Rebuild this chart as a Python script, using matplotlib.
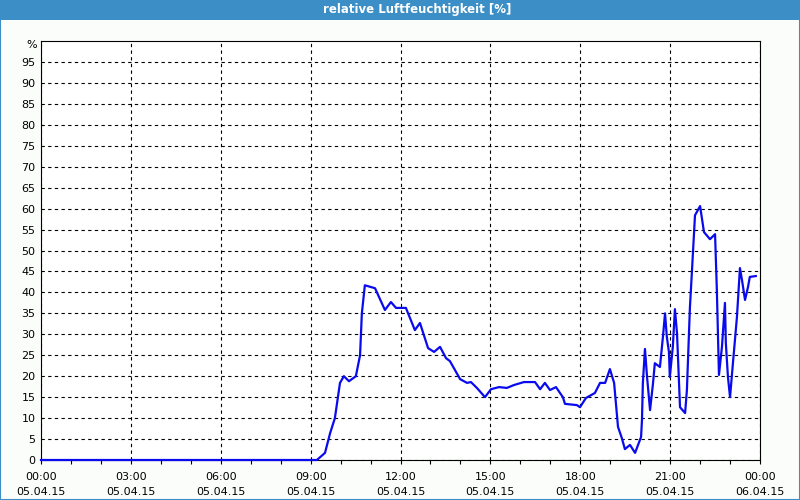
import matplotlib.pyplot as plt
from matplotlib.patches import Rectangle

# hours since 05.04.15 00:00 and relative humidity in %
hours = [0, 9.21, 9.48, 9.65, 9.81, 9.98, 10.11, 10.28, 10.51, 10.65, 10.71, 10.81,
         11.15, 11.48, 11.68, 11.85, 12.18, 12.48, 12.65, 12.92, 13.12, 13.32, 13.52,
         13.65, 13.99, 14.22, 14.35, 14.55, 14.82, 15.02, 15.29, 15.55, 15.79, 16.12,
         16.49, 16.66, 16.82, 16.99, 17.19, 17.42, 17.49, 17.89, 17.99, 18.19, 18.49,
         18.66, 18.83, 18.99, 19.13, 19.26, 19.39, 19.49, 19.66, 19.83, 20.03, 20.06,
         20.09, 20.16, 20.23, 20.33, 20.43, 20.49, 20.66, 20.76, 20.83, 20.89, 20.96,
         20.99, 21.09, 21.16, 21.23, 21.33, 21.50, 21.56, 21.66, 21.73, 21.83, 22.00,
         22.13, 22.33, 22.50, 22.56, 22.63, 22.73, 22.83, 22.86, 22.93, 23.00, 23.10,
         23.23, 23.33, 23.40, 23.50, 23.60, 23.66, 23.86]
humidity = [0, 0, 1.7, 6.4, 10, 18.4, 20, 18.8, 20, 25, 35, 41.7,
            41, 35.8, 37.7, 36.3, 36.3, 31, 32.7, 26.7, 25.8, 27, 24.3,
            23.6, 19.3, 18.4, 18.6, 17.2, 15, 16.9, 17.4, 17.2, 17.9, 18.6,
            18.6, 16.9, 18.4, 16.7, 17.4, 15, 13.4, 13.1, 12.6, 14.8, 16,
            18.4, 18.4, 21.7, 18.4, 7.9, 5.2, 2.6, 3.6, 1.7, 5.5, 9.5,
            18.4, 26.5, 19.8, 11.9, 18.4, 23.1, 22.2, 29.4, 35, 29.4, 25.8,
            19.8, 27, 36, 30.2, 12.6, 11.2, 16.7, 36.3, 45.3, 58.4, 60.6,
            54.4, 52.7, 53.9, 40.5, 20.3, 27, 37.5, 27.9, 19.8, 15, 23.4,
            34.1, 45.8, 42.9, 38.2, 41.3, 43.7, 43.9]

x_ticks = [0, 3, 6, 9, 12, 15, 18, 21, 24]
x_labels = ["00:00\n05.04.15", "03:00\n05.04.15", "06:00\n05.04.15", "09:00\n05.04.15",
            "12:00\n05.04.15", "15:00\n05.04.15", "18:00\n05.04.15", "21:00\n05.04.15",
            "00:00\n06.04.15"]
y_ticks = list(range(0, 100, 5))
y_labels = [str(v) for v in y_ticks]

frame = "#3c8fc6"

fig = plt.figure(figsize=(8, 5), dpi=100, facecolor="#fbfdfb")
# window frame and title bar
fig.patches.append(Rectangle((0, 0.96), 1, 0.04, transform=fig.transFigure,
                             facecolor=frame, edgecolor="none"))
fig.patches.append(Rectangle((0.0006, 0.001), 0.9988, 0.998, transform=fig.transFigure,
                             facecolor="none", edgecolor=frame, linewidth=1.5))
fig.text(0.522, 0.98, "relative Luftfeuchtigkeit [%]", color="white", fontsize=8.5,
         fontweight="bold", ha="center", va="center")

ax = fig.add_axes([0.05125, 0.08, 0.89875, 0.838])
ax.set_facecolor("white")
ax.plot(hours, humidity, color="#0a0aee", linewidth=1.6, zorder=3, clip_on=False)

ax.set_xlim(0, 24)
ax.set_ylim(0, 100)
ax.set_xticks(x_ticks)
ax.set_xticklabels(x_labels, fontsize=8, linespacing=1.6)
ax.set_xticks(range(0, 25), minor=True)
ax.set_yticks(y_ticks)
ax.set_yticklabels(y_labels, fontsize=8)
ax.tick_params(axis="x", which="both", length=3, direction="out", pad=6, width=0.8)
ax.tick_params(axis="y", length=0, pad=4)
# unit label above the y tick labels
fig.text(0.04, 0.91, "%", fontsize=8, ha="center", va="center")

ax.grid(True, which="major", color="black", linestyle=(0, (3, 3)), linewidth=0.8)
for s in ax.spines.values():
    s.set_linewidth(0.8)

fig.savefig("out.png", dpi=100, facecolor=fig.get_facecolor())
